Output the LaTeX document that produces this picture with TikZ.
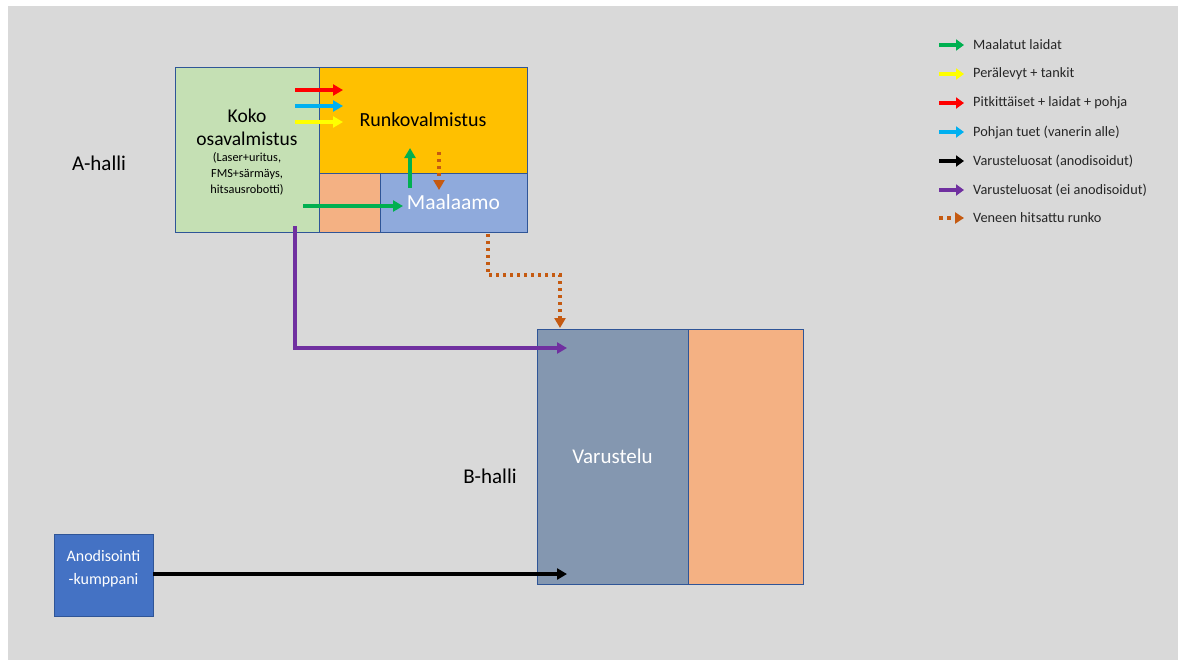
\documentclass[tikz,border=0pt]{standalone}
\usepackage{fontspec}
\setmainfont{Carlito}
\usepackage{xcolor}
\usepackage{tikz}
\usetikzlibrary{positioning,arrows.meta}

\definecolor{bggray}{HTML}{D9D9D9}
\definecolor{edgeblue}{HTML}{2F5597}
\definecolor{partgreen}{HTML}{C5E0B4}
\definecolor{hullyellow}{HTML}{FFC000}
\definecolor{salmon}{HTML}{F4B183}
\definecolor{paintblue}{HTML}{8FAADC}
\definecolor{fitslate}{HTML}{8497B0}
\definecolor{anodblue}{HTML}{4472C4}
\definecolor{flowgreen}{HTML}{00B050}
\definecolor{flowyellow}{HTML}{FFFF00}
\definecolor{flowred}{HTML}{FF0000}
\definecolor{flowcyan}{HTML}{00B0F0}
\definecolor{flowpurple}{HTML}{7030A0}
\definecolor{flowrust}{HTML}{C55A11}

\begin{document}
\begin{tikzpicture}[
  x=1pt, y=-1pt,
  zone/.style={draw=edgeblue, line width=0.8pt, rectangle, inner sep=0pt, outer sep=0pt, anchor=north west},
  bigtxt/.style={font=\fontsize{20}{24}\selectfont, inner sep=0pt},
  smalltxt/.style={font=\fontsize{12.3}{16}\selectfont, inner sep=0pt, align=center},
  legtxt/.style={font=\fontsize{14.3}{17}\selectfont, inner sep=0pt, anchor=west, text=black!85},
  flow/.style={-{Triangle[length=10pt,width=11pt]}, line width=3.4pt},
  weld/.style={-{Triangle[length=10pt,width=11pt]}, line width=3.4pt, dash pattern=on 3.4pt off 3.6pt, flowrust},
  legflow/.style={-{Triangle[length=8pt,width=11pt]}, line width=4pt},
  legweld/.style={-{Triangle[length=9pt,width=11pt]}, line width=4pt, dash pattern=on 4pt off 4pt, flowrust}
]
\useasboundingbox (0,0) rectangle (1186,662);
\fill[bggray] (8,6) rectangle (1178,660);

\node[zone, fill=partgreen, minimum width=144pt, minimum height=165pt] (koko) at (175,67) {};
\node[zone, fill=hullyellow, minimum width=208pt, minimum height=106pt, bigtxt] (runko) at (koko.north east) {Runkovalmistus};
\node[zone, fill=salmon, minimum width=61pt, minimum height=59pt] (varasto) at (runko.south west) {};
\node[zone, fill=paintblue, minimum width=147pt, minimum height=59pt, text=white, font=\fontsize{21.5}{24}\selectfont] (maal) at (varasto.north east) {Maalaamo};
\node[bigtxt, align=center, font=\fontsize{19.5}{23}\selectfont] (kokotxt) at (247,127) {Koko\\osavalmistus};
\node[smalltxt, below=7pt of kokotxt] (kokosub) {(Laser+uritus,\\FMS+särmäys,\\hitsausrobotti)};
\node[bigtxt, font=\fontsize{21}{24}\selectfont] (ahalli) at (99,163) {A-halli};

\node[zone, fill=fitslate, minimum width=151pt, minimum height=255pt, text=white, font=\fontsize{21}{24}\selectfont] (varust) at (537,329) {Varustelu};
\node[zone, fill=salmon, minimum width=115pt, minimum height=255pt] (varastob) at (varust.north east) {};
\node[bigtxt, font=\fontsize{21}{24}\selectfont] (bhalli) at (490,476) {B-halli};

\node[zone, fill=anodblue, minimum width=99pt, minimum height=82pt] (anod) at (54,534) {};
\node[inner sep=0pt, text=white, align=center, font=\fontsize{16}{23}\selectfont] (anodtxt) at ([yshift=6.5pt]anod.center) {Anodisointi\\-kumppani};

\coordinate (redA) at (295,90);   \coordinate (redB) at (343,90);
\coordinate (cyanA) at (295,106); \coordinate (cyanB) at (343,106);
\coordinate (yelA) at (295,122);  \coordinate (yelB) at (343,122);
\coordinate (paintA) at (303,206); \coordinate (paintB) at (403,206);
\coordinate (backA) at (410,188); \coordinate (backB) at (410,148);
\coordinate (hullA) at (439,152); \coordinate (hullB) at (439,190);
\coordinate (purA) at (295,226);  \coordinate (purB) at (567,348);
\coordinate (weldA) at (488,234); \coordinate (weldB) at (560,328);
\coordinate (blackB) at (567,574);

\draw[flow, flowred] (redA) -- (redB);
\draw[flow, flowcyan] (cyanA) -- (cyanB);
\draw[flow, flowyellow] (yelA) -- (yelB);
\draw[flow, flowgreen] (paintA) -- (paintB);
\draw[flow, flowgreen] (backA) -- (backB);
\draw[weld] (hullA) -- (hullB);
\draw[flow, flowpurple] (purA) |- (purB);
\draw[weld] (weldA) -- (weldA |- 0,275) -| (weldB);
\draw[flow, black] (anod.east |- blackB) -- (blackB);

\node[legtxt] (leg1) at (973,45) {Maalatut laidat};
\node[legtxt] (leg2) at (973,74) {Perälevyt + tankit};
\node[legtxt] (leg3) at (973,103) {Pitkittäiset + laidat + pohja};
\node[legtxt] (leg4) at (973,132) {Pohjan tuet (vanerin alle)};
\node[legtxt] (leg5) at (973,161) {Varusteluosat (anodisoidut)};
\node[legtxt] (leg6) at (973,190) {Varusteluosat (ei anodisoidut)};
\node[legtxt] (leg7) at (973,218) {Veneen hitsattu runko};

\draw[legflow, flowgreen] ([xshift=-34pt]leg1.west) -- ([xshift=-9pt]leg1.west);
\draw[legflow, flowyellow] ([xshift=-34pt]leg2.west) -- ([xshift=-9pt]leg2.west);
\draw[legflow, flowred] ([xshift=-34pt]leg3.west) -- ([xshift=-9pt]leg3.west);
\draw[legflow, flowcyan] ([xshift=-34pt]leg4.west) -- ([xshift=-9pt]leg4.west);
\draw[legflow, black] ([xshift=-34pt]leg5.west) -- ([xshift=-9pt]leg5.west);
\draw[legflow, flowpurple] ([xshift=-34pt]leg6.west) -- ([xshift=-9pt]leg6.west);
\draw[legweld] ([xshift=-34pt]leg7.west) -- ([xshift=-9pt]leg7.west);
\end{tikzpicture}
\end{document}
